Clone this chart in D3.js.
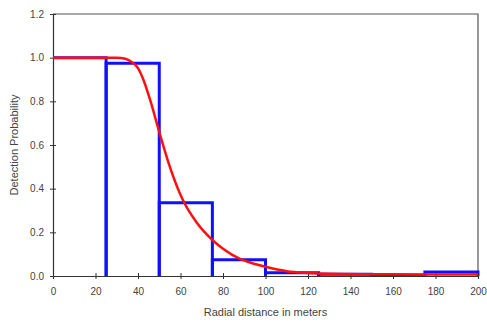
<!DOCTYPE html>
<html>
<head>
<meta charset="utf-8">
<script src="https://cdn.jsdelivr.net/npm/d3@7"></script>
<style>
  html, body { margin: 0; padding: 0; background: #fff; }
  svg { display: block; }
</style>
</head>
<body>
<svg id="chart" width="487" height="323"></svg>
<script>
// Histogram bins (distance intervals) and observed detection proportions
const binStarts = [0, 25, 50, 75, 100, 125, 150, 175];
const binWidth = 25;
const binValues = [1.0, 0.975, 0.335, 0.075, 0.015, 0.008, 0.004, 0.018];

// Fitted detection curve
const curveX = [0, 20, 30, 34, 37, 40, 42.5, 45.6, 50, 55, 61, 67.6, 75, 80, 88, 95, 100, 110, 120, 130, 150, 175, 200];
const curveY = [1.0, 1.0, 1.0, 0.995, 0.98, 0.952, 0.90, 0.81, 0.66, 0.50, 0.35, 0.245, 0.165, 0.125, 0.078, 0.055, 0.042, 0.022, 0.014, 0.010, 0.008, 0.007, 0.007];

const xTicks = [0, 20, 40, 60, 80, 100, 120, 140, 160, 180, 200];
const yTicks = [0.0, 0.2, 0.4, 0.6, 0.8, 1.0, 1.2];

const svg = d3.select("#chart");
const margin = { left: 53, right: 9, top: 14, bottom: 47 };
const W = 487, H = 323;
const x = d3.scaleLinear().domain([0, 200]).range([margin.left, W - margin.right]);
const y = d3.scaleLinear().domain([0, 1.2]).range([H - margin.bottom, margin.top]);

const font = "Arial, 'Liberation Sans', sans-serif";

// frame (top & right)
svg.append("path")
  .attr("d", `M${x(0)},${y(1.2)}H${x(200)}V${y(0)}`)
  .attr("fill", "none").attr("stroke", "#555").attr("stroke-width", 1.2);

// histogram rectangles (first bin's left edge is the axis itself)
svg.append("g").selectAll("path").data(binStarts).join("path")
  .attr("d", (s, i) => (i === 0 ? `M${x(s)},${y(binValues[i])}` : `M${x(s)},${y(0)}V${y(binValues[i])}`) + `H${x(s + binWidth)}V${y(0)}`)
  .attr("fill", "none").attr("stroke", "#1010ff").attr("stroke-width", 3)
  .attr("stroke-linejoin", "miter");

// x axis
const gx = svg.append("g").attr("transform", `translate(0,${y(0)})`)
  .call(d3.axisBottom(x).tickValues(xTicks).tickFormat(d3.format("d")).tickSize(3).tickPadding(9));
gx.select(".domain").attr("stroke", "#333").attr("stroke-width", 1.2);
gx.selectAll(".tick line").attr("y1", -3).attr("y2", 3).attr("stroke", "#333");
gx.selectAll("text").attr("font-family", font).attr("font-size", 10).attr("fill", "#444");

// y axis
const gy = svg.append("g").attr("transform", `translate(${x(0)},0)`)
  .call(d3.axisLeft(y).tickValues(yTicks).tickFormat(d3.format(".1f")).tickSize(3).tickPadding(6));
gy.select(".domain").attr("stroke", "#333").attr("stroke-width", 1.2);
gy.selectAll(".tick line").attr("x1", -3).attr("x2", 3).attr("stroke", "#333");
gy.selectAll("text").attr("font-family", font).attr("font-size", 10).attr("fill", "#444");

// fitted curve
const line = d3.line().x(d => x(d[0])).y(d => y(d[1])).curve(d3.curveMonotoneX);
svg.append("path")
  .datum(curveX.map((v, i) => [v, curveY[i]]))
  .attr("d", line)
  .attr("fill", "none").attr("stroke", "#ff1010").attr("stroke-width", 2.5);

// axis titles
svg.append("text").attr("x", (x(0) + x(200)) / 2).attr("y", 316)
  .attr("text-anchor", "middle").attr("font-family", font).attr("font-size", 11).attr("fill", "#444")
  .text("Radial distance in meters");
svg.append("text").attr("transform", `translate(18,${(y(0) + y(1.2)) / 2}) rotate(-90)`)
  .attr("text-anchor", "middle").attr("font-family", font).attr("font-size", 11).attr("fill", "#444")
  .text("Detection Probability");
</script>
</body>
</html>
